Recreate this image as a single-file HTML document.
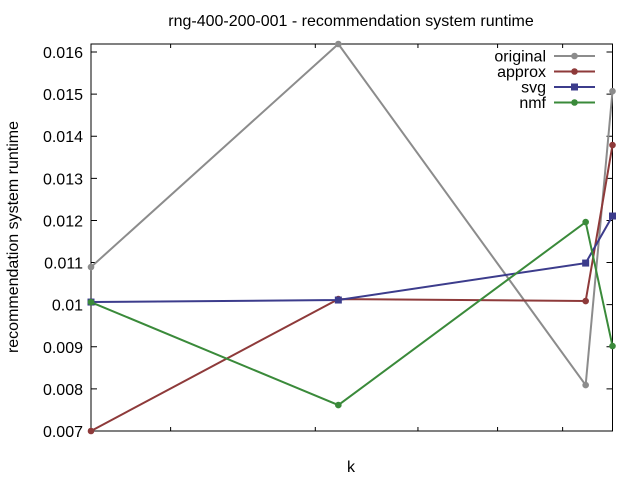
<!DOCTYPE html>
<html><head><meta charset="utf-8"><style>
body{margin:0;background:#fff}
svg{display:block;font-family:"Liberation Sans",Arial,sans-serif}
</style></head><body>
<svg id="chart" width="640" height="480"></svg>
<script>
const categories = [16, 32, 64, 69];
const seriesNames = ["original", "approx", "svg", "nmf"];
const originalValues = [0.010893, 0.01619, 0.00809, 0.01507];
const approxValues = [0.007, 0.010133, 0.010086, 0.013791];
const svgValues = [0.010062, 0.01011, 0.010988, 0.012105];
const nmfValues = [0.01006, 0.007615, 0.011962, 0.009017];
const yTicks = [0.007, 0.008, 0.009, 0.01, 0.011, 0.012, 0.013, 0.014, 0.015, 0.016];
const yTickLabels = ["0.007", "0.008", "0.009", "0.01", "0.011", "0.012", "0.013", "0.014", "0.015", "0.016"];
const xTicks = [20, 30, 40, 50, 60];

const NS = "http://www.w3.org/2000/svg";
const svg = document.getElementById("chart");
const L = 91, R = 612.5, T = 44, B = 431;
const xMin = 16, xMax = 69, yMin = 0.007, yMax = 0.01619;
function xs(v){return L + (Math.log(v) - Math.log(xMin)) / (Math.log(xMax) - Math.log(xMin)) * (R - L);}
function ys(v){return B - (v - yMin) / (yMax - yMin) * (B - T);}
function mk(tag, attrs){const e = document.createElementNS(NS, tag); for (const k in attrs) e.setAttribute(k, attrs[k]); svg.appendChild(e); return e;}

const frame = mk("rect", {x: L, y: T, width: R - L, height: B - T, fill: "none", stroke: "#000", "stroke-width": 1});



yTicks.forEach((t, i) => {
  const y = ys(t);
  const a = mk("path", {d: `M${L} ${y}h6M${R} ${y}h-6`, stroke: "#000", "stroke-width": 1});
  
  
  const tx = mk("text", {x: 83, y: y + 6, "text-anchor": "end", "font-size": 16, fill: "#000"});
  tx.textContent = yTickLabels[i];
  
  
});
xTicks.forEach(t => {
  const x = xs(t);
  const a = mk("path", {d: `M${x} ${B}v-4M${x} ${T}v4`, stroke: "#000", "stroke-width": 1});
  
  
});

const title = mk("text", {x: 351, y: 26, "text-anchor": "middle", "font-size": 16});
title.textContent = "rng-400-200-001 - recommendation system runtime";


const xl = mk("text", {x: 351, y: 472, "text-anchor": "middle", "font-size": 16});
xl.textContent = "k";


const yl = mk("text", {x: 0, y: 0, "text-anchor": "middle", "font-size": 16, transform: "translate(18,237) rotate(-90)"});
yl.textContent = "recommendation system runtime";



const allValues = [originalValues, approxValues, svgValues, nmfValues];
const colors = ["#8c8c8c", "#8e3a3a", "#3c3c8c", "#3a8a3a"];
const squares = [false, false, true, false];
function marker(x, y, i){
  let m;
  if (squares[i]) m = mk("rect", {x: x - 3.5, y: y - 3.5, width: 7, height: 7, fill: colors[i]});
  else m = mk("circle", {cx: x, cy: y, r: 3.3, fill: colors[i]});
  return m;
}
allValues.forEach((vals, i) => {
  const d = vals.map((v, j) => (j ? "L" : "M") + xs(categories[j]) + " " + ys(v)).join("");
  const p = mk("path", {d: d, fill: "none", stroke: colors[i], "stroke-width": 2});
  
  
  vals.forEach((v, j) => {
    const m = marker(xs(categories[j]), ys(v), i);
    
    
  });
  const ly = 56 + i * 15.5;
  const lt = mk("text", {x: 546, y: ly + 5.5, "text-anchor": "end", "font-size": 16});
  lt.textContent = seriesNames[i];
  
  
  const ll = mk("path", {d: `M554 ${ly}H595`, stroke: colors[i], "stroke-width": 2});
  
  
  const lm = marker(574.5, ly, i);
  
  
});
</script>
</body></html>
